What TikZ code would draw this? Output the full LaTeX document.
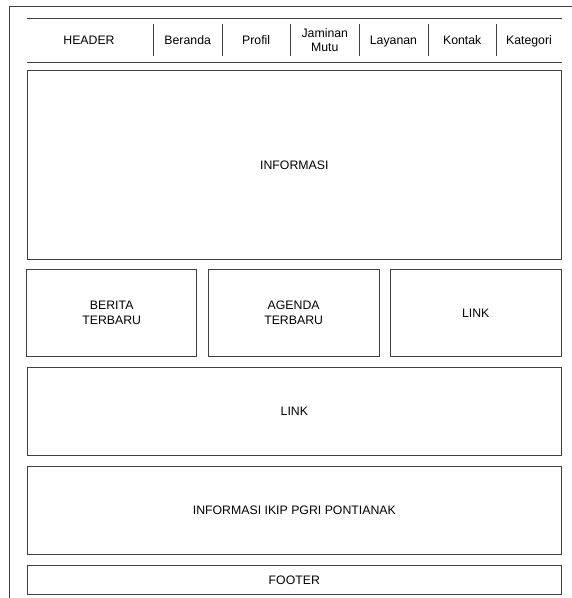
\documentclass[tikz,border=0pt]{standalone}
\usepackage{fontspec}
\setmainfont{Liberation Sans}
\begin{document}
\begin{tikzpicture}[x=1pt,y=-1pt,
	box/.style={draw=black!75, line width=0.8pt, inner sep=0pt, align=center,
		font=\fontsize{12.3}{14.8}\selectfont},
	menutext/.style={inner sep=0pt, align=center, font=\fontsize{12.3}{13.6}\selectfont},
	menu/.style={menutext, text height=8.8pt, text depth=2.6pt},
	rule/.style={draw=black!75, line width=0.8pt}]
	\useasboundingbox (0,0) rectangle (572,598);
	\clip (0,0) rectangle (572,598);
	% outer frame, cut by the page
	\draw[rule] (9,6.5) rectangle (600,620);
	% header bar
	\node[inner sep=0pt, minimum width=534.7pt, minimum height=43.4pt] (header) at (294.35,40) {};
	\draw[rule] (header.north west) -- (header.north east);
	\draw[rule] (header.south west) -- (header.south east);
	\node[menu] (head) at (89,41.6) {HEADER};
	\node[menu] (beranda) at (187.7,41.6) {Beranda};
	\node[menu] (profil) at (256.2,41.6) {Profil};
	\node[menutext] (mutu) at (324.8,40.2) {Jaminan\\Mutu};
	\node[menu] (layanan) at (393.5,41.6) {Layanan};
	\node[menu] (kontak) at (462.2,41.6) {Kontak};
	\node[menu] (kategori) at (529,41.6) {Kategori};
	\foreach \x in {153.3,222,290.5,359,428,496.3}
		\draw[rule] (\x,24) -- (\x,55.7);
	% content blocks
	\node[box, minimum width=534.7pt, minimum height=188.6pt] (informasi) at (294.35,165) {INFORMASI};
	\node[box, minimum width=170pt, minimum height=87.7pt] (berita) at (111.7,312.8) {BERITA\\TERBARU};
	\node[box, minimum width=170.7pt, minimum height=87.7pt] (agenda) at (293.65,312.8) {AGENDA\\TERBARU};
	\node[box, minimum width=171pt, minimum height=87.7pt] (link) at (475.7,312.8) {LINK};
	\node[box, minimum width=534.7pt, minimum height=87.7pt] (links) at (294.35,411.2) {LINK};
	\node[box, minimum width=534.7pt, minimum height=87.6pt] (ikip) at (294.35,510.5) {INFORMASI IKIP PGRI PONTIANAK};
	\node[box, minimum width=534.7pt, minimum height=28.3pt] (footer) at (294.35,579.8) {FOOTER};
\end{tikzpicture}
\end{document}
